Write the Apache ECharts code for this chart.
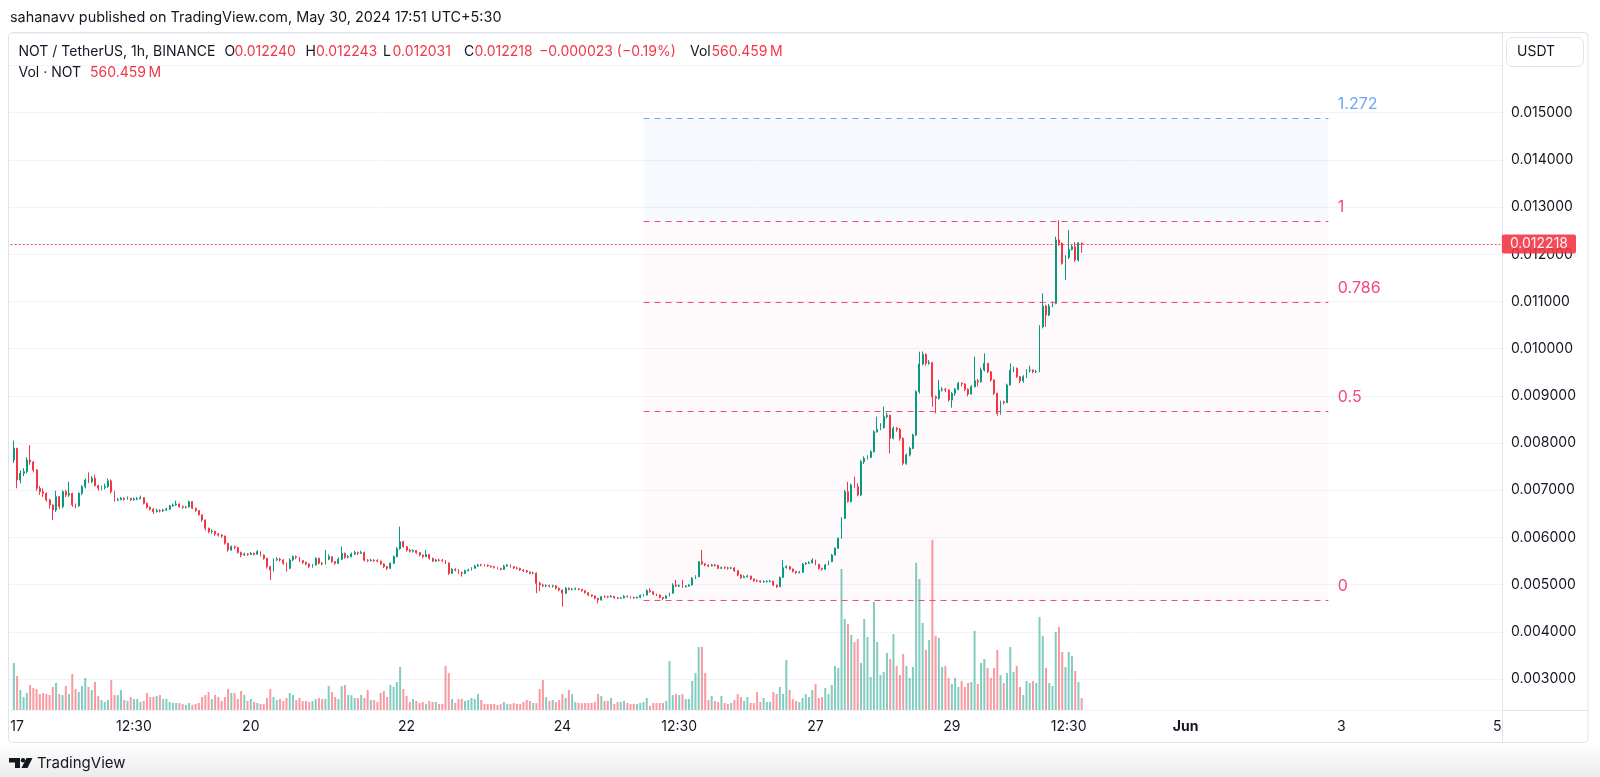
<!DOCTYPE html>
<html>
<head>
<meta charset="utf-8">
<script src="https://cdn.jsdelivr.net/npm/echarts@6/dist/echarts.min.js"></script>
<style>html,body{margin:0;padding:0;background:#fff}#c{width:1600px;height:777px}</style>
</head>
<body>
<div id="c"></div>
<script>
// ---------------- DATA ----------------
// prices in micro-USDT (1e-6 USDT); one candle per hour, first candle at hour -1 (hour 0 = 17 May 00:30)
const PRICE_UNIT = 1e-6;
const firstHour = -1;
const firstOpen = 7642;
const closes = [
7889,7218,7359,7395,7642,7600,7430,7042,6971,6936,
6795,6689,6583,6865,6653,6971,6900,6936,6689,6670,
6936,7077,7218,7183,7254,7100,7042,7060,7080,7200,
6971,6795,6800,6830,6810,6830,6800,6815,6820,6845,
6724,6640,6600,6548,6570,6565,6580,6600,6670,6690,
6710,6653,6640,6645,6760,6618,6570,6480,6371,6195,
6124,6130,6075,6053,6030,5877,5736,5806,5790,5680,
5630,5650,5640,5665,5645,5700,5630,5559,5383,5312,
5524,5540,5524,5453,5347,5524,5594,5580,5510,5470,
5440,5383,5420,5559,5453,5440,5540,5594,5489,5453,
5540,5665,5580,5594,5650,5680,5665,5680,5520,5510,
5523,5510,5500,5440,5382,5347,5453,5594,5760,5912,
5806,5735,5710,5725,5680,5629,5594,5640,5560,5500,
5523,5518,5512,5460,5241,5325,5312,5255,5241,5297,
5312,5347,5396,5418,5415,5410,5396,5382,5368,5340,
5325,5396,5418,5382,5354,5347,5312,5297,5270,5241,
5245,5029,4994,4980,4985,4970,4975,4923,4888,4820,
4923,4902,4905,4910,4902,4874,4831,4782,4760,4711,
4676,4747,4745,4740,4754,4725,4711,4718,4754,4747,
4725,4718,4732,4775,4782,4874,4852,4803,4782,4732,
4711,4760,4817,4994,4970,4980,4958,4970,4994,5135,
5170,5488,5440,5418,5396,5418,5410,5347,5360,5355,
5350,5355,5297,5205,5150,5170,5184,5120,5085,5080,
5064,5066,5072,5078,4994,4958,5156,5361,5382,5333,
5283,5255,5262,5438,5452,5466,5523,5431,5340,5325,
5417,5488,5629,5770,5982,6406,6970,6760,7112,7080,
6900,7606,7677,7698,7818,8242,8292,8327,8560,8590,
8101,8313,8290,8100,7571,7748,7889,8171,9090,9676,
9880,9690,9703,8983,8948,9125,9139,9125,8913,9054,
9139,9266,9252,9139,9040,9195,9322,9301,9549,9690,
9513,9337,9054,8630,8877,8856,9231,9549,9584,9407,
9320,9407,9540,9549,9513,9515,10466,10904,10714,10904,
10960,12303,12232,11808,11935,12105,12161,11879,12240,12218
];
const highs = [
8051,7900,7420,7470,7700,7960,7620,7450,7090,7040,
6960,6820,6700,6990,6880,7000,7010,7183,6950,6720,
6960,7110,7250,7380,7300,7330,7120,7100,7140,7250,
7230,6990,6840,6860,6850,6870,6840,6850,6860,6890,
6850,6740,6660,6620,6610,6600,6610,6630,6690,6720,
6780,6720,6680,6670,6780,6770,6630,6580,6490,6380,
6210,6170,6140,6100,6070,6040,5890,5830,5830,5800,
5700,5680,5670,5690,5680,5736,5710,5640,5570,5400,
5560,5580,5570,5540,5470,5560,5620,5620,5590,5520,
5490,5450,5440,5580,5570,5480,5736,5640,5600,5500,
5580,5806,5680,5630,5680,5720,5700,5720,5700,5540,
5550,5540,5540,5510,5450,5400,5470,5620,5800,6230,
5930,5820,5760,5750,5730,5690,5640,5735,5650,5570,
5545,5550,5545,5520,5470,5350,5350,5330,5280,5320,
5340,5370,5420,5440,5440,5435,5430,5410,5395,5380,
5360,5420,5440,5430,5390,5380,5360,5330,5310,5280,
5275,5260,5060,5020,5010,5000,5000,4990,4940,4900,
4950,4940,4930,4940,4930,4910,4880,4840,4790,4770,
4720,4760,4770,4765,4780,4760,4740,4740,4780,4770,
4760,4745,4750,4790,4800,4900,4923,4860,4810,4790,
4740,4775,4830,5030,5100,5010,5100,4990,5010,5160,
5200,5500,5735,5460,5430,5440,5440,5420,5390,5390,
5380,5380,5370,5300,5220,5200,5210,5190,5130,5110,
5090,5090,5095,5100,5080,5000,5170,5523,5410,5400,
5340,5290,5290,5460,5480,5500,5560,5530,5440,5360,
5440,5510,5650,5790,6000,6430,7006,7180,7140,7289,
7150,7640,7720,7740,7850,8270,8560,8420,8772,8650,
8600,8350,8340,8320,8120,7780,7920,8200,9120,9937,
9940,9900,9760,9720,9010,9340,9190,9170,9140,9080,
9170,9300,9290,9270,9160,9230,9830,9360,9600,9901,
9700,9520,9350,9070,8900,8900,9260,9690,9620,9600,
9420,9440,9570,9640,9560,9550,10500,11173,10930,10950,
11000,12373,12720,12250,11980,12514,12200,12260,12260,12243
];
const lows = [
7580,7042,7150,7300,7360,7540,7380,6990,6900,6860,
6760,6610,6371,6540,6600,6620,6860,6860,6650,6620,
6650,6900,7040,7150,7150,7080,6990,7000,7020,7050,
6930,6760,6770,6790,6780,6800,6770,6780,6790,6810,
6700,6610,6570,6500,6530,6530,6540,6560,6590,6650,
6670,6630,6610,6610,6640,6600,6540,6460,6330,6150,
6090,6080,6040,6020,5990,5850,5700,5720,5750,5660,
5580,5610,5610,5630,5620,5640,5600,5530,5340,5100,
5280,5500,5490,5420,5277,5330,5500,5540,5480,5440,
5410,5350,5360,5400,5430,5410,5430,5520,5460,5420,
5440,5520,5550,5560,5580,5630,5630,5650,5490,5480,
5490,5480,5470,5420,5350,5310,5330,5440,5580,5740,
5780,5700,5680,5680,5650,5600,5560,5590,5530,5480,
5480,5490,5480,5440,5206,5230,5280,5230,5170,5220,
5280,5300,5340,5380,5390,5385,5375,5360,5340,5320,
5300,5310,5380,5360,5330,5320,5290,5270,5250,5220,
5220,4820,4860,4950,4950,4940,4940,4900,4860,4535,
4800,4880,4880,4885,4880,4850,4810,4760,4740,4690,
4605,4660,4720,4715,4730,4700,4690,4695,4710,4725,
4705,4700,4710,4720,4750,4770,4830,4780,4760,4710,
4672,4700,4750,4810,4950,4950,4930,4940,4960,4980,
5120,5160,5420,5390,5370,5390,5385,5330,5330,5330,
5320,5330,5270,5180,5120,5140,5150,5100,5060,5055,
5040,5040,5045,5050,4970,4930,4950,5140,5340,5310,
5260,5230,5240,5250,5420,5440,5450,5410,5320,5300,
5320,5410,5480,5620,5760,5970,6390,6740,6740,7050,
6870,6880,7560,7650,7680,7800,8220,8270,8310,8520,
7783,8080,8240,8050,7530,7540,7720,7870,8150,9050,
9650,9640,9660,8770,8630,8920,9090,9080,8880,8750,
9000,9120,9200,9100,8990,9030,9180,9200,9280,9520,
9480,9300,9020,8580,8600,8820,8850,9220,9500,9380,
9270,9280,9380,9500,9480,9480,9500,10430,10466,10690,
10880,10940,12180,11780,11455,11900,12080,11840,11850,12031
];
// volume in millions of NOT
const volumesM = [
2210,1600,940,610,800,1175,1035,985,750,800,
755,705,1080,1270,750,700,1130,750,1690,985,
845,1125,1505,1080,940,1315,660,470,375,470,
1410,705,700,940,470,425,610,515,520,375,
425,800,610,615,660,705,515,520,375,330,
330,325,280,235,330,240,280,330,610,705,
845,515,705,610,425,610,985,800,795,515,
895,705,425,515,375,330,280,285,565,985,
610,470,515,425,565,800,705,470,565,420,
425,375,420,515,565,520,515,1130,845,610,
515,1125,1175,705,700,565,560,705,565,940,
470,465,375,800,895,610,1175,1080,1315,2020,
985,660,375,515,425,330,375,280,425,375,
375,285,280,2070,1740,515,330,515,520,425,
470,565,515,750,470,280,285,280,285,235,
280,375,285,280,330,285,280,375,470,425,
330,325,985,1410,610,
425,
470,375,470,750,565,940,750,375,330,325,
330,325,330,375,755,660,425,420,565,280,
375,380,425,330,280,285,280,330,375,565,
190,330,325,330,330,425,2300,705,750,700,
750,515,520,1365,1740,2960,2965,1740,
470,
660,425,
375,660,330,280,330,470,750,610,425,610,
330,325,845,375,565,375,380,845,750,1080,
755,2350,940,515,425,375,565,750,610,940,
1220,565,610,1035,750,1175,2070,1975,6625,4275,
4040,3525,3195,3335,2210,4275,3430,1550,5075,3195,
1645,1785,2680,2395,3570,2070,1645,2630,2070,1505,
2020,6910,6155,4090,2820,3290,7990,
3480,3385,2020,2070,1505,1220,1505,1080,1365,1080,1270,1315,3715,1220,2210,2395,1975,1505,1975,2820,1645,1270,
1740,2960,1785,2070,1080,705,1365,1270,1365,1270,
4370,3480,1975,1270,1130,3665,3900,2725,2020,2725,
2540,1835,1315,560.459
];
// time-axis tick labels: [hour offset from 17 May 00:30, text]
const timeTicks = [[0,'17'],[36,'12:30'],[72,'20'],[120,'22'],[168,'24'],[204,'12:30'],[246,'27'],[288,'29'],[324,'12:30'],[360,'Jun'],[408,'3'],[456,'5']];
const axisFirstHour = -2, axisLastHour = 457;
const priceMin = 0.002345, priceMax = 0.016689;
const volAxisMax = 31800;
const lastPrice = 0.012218;
const fibLow = 0.00467, fibHigh = 0.0127;
const fibLevels = [1.272, 1, 0.786, 0.5, 0];
const fibStartHour = 193, fibEndHour = 404;

// ---------------- CHART ----------------
const FONT = 'Inter, "Noto Sans", "DejaVu Sans", sans-serif';
const UP = '#089981', DOWN = '#f23645';
const UP_VOL = 'rgba(8,153,129,0.5)', DOWN_VOL = 'rgba(242,54,69,0.5)';
const PINK = '#f04b7c', BLUE = '#6ea5f7';
const TXT = '#131722', BORDER = '#e0e3eb';

const tickByHour = {};
timeTicks.forEach(t => { tickByHour[String(t[0])] = t[1]; });
const cats = [];
for (let h = axisFirstHour; h <= axisLastHour; h++) cats.push(String(h));
const N = cats.length;

const candleData = new Array(N).fill('-');
const volData = new Array(N).fill('-');
let prev = firstOpen;
for (let i = 0; i < closes.length; i++) {
  const o = prev, c = closes[i];
  const hi = Math.max(highs[i], o, c), lo = Math.min(lows[i], o, c);
  const idx = firstHour + i - axisFirstHour;
  candleData[idx] = [o * PRICE_UNIT, c * PRICE_UNIT, lo * PRICE_UNIT, hi * PRICE_UNIT];
  volData[idx] = { value: volumesM[i], itemStyle: { color: c >= o ? UP_VOL : DOWN_VOL } };
  prev = c;
}

const fibPrice = lv => fibLow + lv * (fibHigh - fibLow);
const fs = fibStartHour - axisFirstHour, fe = fibEndHour - axisFirstHour;

const chart = echarts.init(document.getElementById('c'), null, { renderer: 'canvas', width: 1600, height: 777 });

const txt = (x, y, text, fill, size, extra) => Object.assign({
  type: 'text', x: x, y: y, silent: true,
  style: { text: text, fill: fill, fontSize: size || 14, fontFamily: FONT, verticalAlign: 'middle', align: 'left' }
}, extra || {});

const option = {
  animation: false,
  backgroundColor: '#ffffff',
  textStyle: { fontFamily: FONT },
  grid: { left: 9, right: 98, top: 33, bottom: 67 },
  xAxis: {
    type: 'category', data: cats, boundaryGap: true,
    axisLine: { show: false }, axisTick: { show: false }, splitLine: { show: false },
    axisLabel: {
      interval: (i, v) => tickByHour[v] !== undefined,
      formatter: v => { const l = tickByHour[v] || ''; return l === 'Jun' ? '{b|Jun}' : l; },
      color: TXT, fontSize: 14, fontFamily: FONT, margin: 10,
      rich: { b: { fontWeight: 'bold', fontSize: 14, color: TXT, fontFamily: FONT } }
    }
  },
  yAxis: [{
    type: 'value', position: 'right', min: priceMin, max: priceMax,
    splitNumber: 14, minInterval: 0.001, maxInterval: 0.001,
    axisLine: { show: true, lineStyle: { color: BORDER } }, axisTick: { show: false },
    axisLabel: {
      color: TXT, fontSize: 14, fontFamily: FONT, margin: 9,
      formatter: v => { const k = Math.round(v * 1000); if (Math.abs(v * 1000 - k) > 1e-6 || k > 15 || k < 3) return ''; return v.toFixed(6); }
    },
    splitLine: { lineStyle: { color: '#f0f3fa', width: 1 } }
  }, {
    type: 'value', min: 0, max: volAxisMax, show: false, splitLine: { show: false }
  }],
  series: [
    {
      name: 'fib', type: 'line', data: [], xAxisIndex: 0, yAxisIndex: 0, silent: true,
      markArea: {
        silent: true,
        data: [
          [{ coord: [fs, fibPrice(1.272)], itemStyle: { color: 'rgba(110,165,247,0.06)' } }, { coord: [fe, fibPrice(1)] }],
          [{ coord: [fs, fibPrice(1)], itemStyle: { color: 'rgba(240,75,124,0.035)' } }, { coord: [fe, fibPrice(0)] }]
        ]
      },
      markLine: {
        silent: true, symbol: ['none', 'none'],
        data: fibLevels.map(lv => [
          { coord: [fs, fibPrice(lv)],
            lineStyle: { color: lv > 1 ? BLUE : PINK, type: [6, 5], width: 1.2 },
            label: { show: false } },
          { coord: [fe, fibPrice(lv)] }
        ]).concat([[
          { coord: [0, lastPrice],
            lineStyle: { color: DOWN, type: [2, 2], width: 1, opacity: 0.9 },
            label: { show: true, position: 'end', distance: 1.5, formatter: lastPrice.toFixed(6),
                     color: '#ffffff', backgroundColor: DOWN, padding: [3, 8, 2, 8], borderRadius: 2,
                     fontSize: 14, fontFamily: FONT } },
          { coord: [N - 1, lastPrice] }
        ]])
      }
    },
    {
      name: 'fibLabels', type: 'scatter', xAxisIndex: 0, yAxisIndex: 0, silent: true,
      symbolSize: 1, itemStyle: { color: 'rgba(0,0,0,0)', opacity: 1 }, z: 4,
      data: fibLevels.map(lv => ({
        value: [fe, fibPrice(lv)],
        label: { show: true, position: 'right', distance: 9, offset: [0, -14], formatter: String(lv),
                 color: lv > 1 ? BLUE : PINK, opacity: 1, fontSize: 16, fontFamily: FONT }
      }))
    },
    {
      name: 'Vol', type: 'bar', data: volData, xAxisIndex: 0, yAxisIndex: 1,
      barWidth: 2, z: 2, silent: true
    },
    {
      name: 'NOTUSDT', type: 'candlestick', data: candleData, xAxisIndex: 0, yAxisIndex: 0,
      barWidth: 1.4, z: 3, silent: true,
      itemStyle: { color: UP, color0: DOWN, borderColor: UP, borderColor0: DOWN, borderWidth: 1 }
    }
  ],
  graphic: [
    { type: 'rect', silent: true, shape: { x: 0, y: 743, width: 1600, height: 34 },
      style: { fill: new echarts.graphic.LinearGradient(0, 0, 0, 1, [{ offset: 0, color: '#ffffff' }, { offset: 1, color: '#ebebeb' }]) } },
    { type: 'rect', silent: true, shape: { x: 8.5, y: 32.5, width: 1579.5, height: 710, r: 4 },
      style: { fill: 'none', stroke: BORDER, lineWidth: 1 } },
    { type: 'line', silent: true, shape: { x1: 8.5, y1: 710.5, x2: 1588, y2: 710.5 }, style: { stroke: BORDER, lineWidth: 1 } },
    { type: 'line', silent: true, shape: { x1: 1502.5, y1: 32.5, x2: 1502.5, y2: 742.5 }, style: { stroke: BORDER, lineWidth: 1 } },
    { type: 'rect', silent: true, shape: { x: 1506.5, y: 37.5, width: 77, height: 29, r: 6 },
      style: { fill: '#ffffff', stroke: BORDER, lineWidth: 1 } },
    txt(1517, 52, 'USDT', TXT, 14),
    txt(10, 18, 'sahanavv published on TradingView.com, May 30, 2024 17:51 UTC+5:30', TXT, 14.4),
    txt(18.5, 52, 'NOT / TetherUS, 1h, BINANCE', TXT, 14),
    txt(224.5, 52, 'O', TXT, 14), txt(234.5, 52, '0.012240', DOWN, 14),
    txt(305.5, 52, 'H', TXT, 14), txt(316, 52, '0.012243', DOWN, 14),
    txt(383, 52, 'L', TXT, 14), txt(392.5, 52, '0.012031', DOWN, 14),
    txt(464, 52, 'C', TXT, 14), txt(474.5, 52, '0.012218', DOWN, 14),
    txt(539, 52, '\u22120.000023 (\u22120.19%)', DOWN, 14),
    txt(690, 52, 'Vol', TXT, 14), txt(711.5, 52, '560.459\u2009M', DOWN, 14),
    txt(18.5, 72.5, 'Vol \u00b7 NOT', TXT, 14), txt(90, 72.5, '560.459\u2009M', DOWN, 14),
    { type: 'polygon', silent: true, shape: { points: [[9, 758], [20, 758], [20, 768], [15, 768], [15, 762.5], [9, 762.5]] }, style: { fill: TXT } },
    { type: 'circle', silent: true, shape: { cx: 23, cy: 760.3, r: 2.2 }, style: { fill: TXT } },
    { type: 'polygon', silent: true, shape: { points: [[26.5, 758], [32.5, 758], [27.5, 768], [21.5, 768]] }, style: { fill: TXT } },
    txt(37, 763, 'TradingView', TXT, 15, {})
  ]
};
chart.setOption(option);
</script>
</body>
</html>
